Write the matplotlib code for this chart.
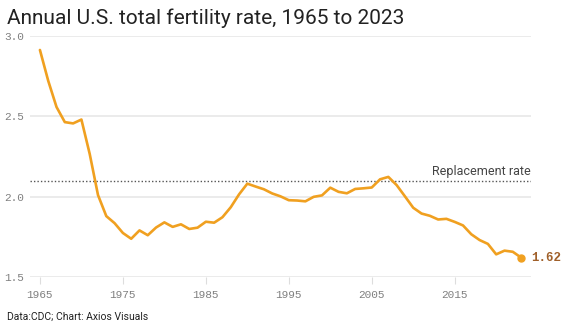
import matplotlib
matplotlib.use("Agg")
import matplotlib.pyplot as plt

years = list(range(1965, 2024))
tfr = [2.913, 2.721, 2.558, 2.464, 2.456, 2.480, 2.266, 2.010, 1.879, 1.835,
       1.774, 1.738, 1.790, 1.760, 1.808, 1.840, 1.812, 1.828, 1.799, 1.807,
       1.844, 1.838, 1.872, 1.934, 2.014, 2.081, 2.063, 2.046, 2.020, 2.002,
       1.978, 1.976, 1.971, 1.999, 2.008, 2.056, 2.030, 2.021, 2.048, 2.052,
       2.057, 2.108, 2.123, 2.072, 2.002, 1.931, 1.895, 1.881, 1.858, 1.862,
       1.843, 1.821, 1.766, 1.730, 1.706, 1.641, 1.664, 1.657, 1.621]
replacement = 2.1
x_ticks = [1965, 1975, 1985, 1995, 2005, 2015]
y_ticks = [1.5, 2.0, 2.5, 3.0]

orange = "#f0a020"
mono = "Liberation Mono"
sans = "Roboto"

fig = plt.figure(figsize=(5.71, 3.30), dpi=100)
ax = fig.add_axes([0.0525, 0.1606, 0.8775, 0.7303])

ax.set_xlim(1963.8, 2024.2)
ax.set_ylim(1.5, 3.0)

for y in y_ticks:
    ax.axhline(y, color="#e8e8e8", lw=1.2, zorder=1)

ax.axhline(replacement, color="#555555", lw=1.0, ls=(0, (1, 1.5)), zorder=2)
ax.text(2024.2, replacement + 0.015, "Replacement rate", ha="right", va="bottom",
        fontsize=9, color="#444444", family=sans)

ax.plot(years, tfr, color=orange, lw=1.9, solid_joinstyle="round",
        solid_capstyle="round", zorder=3)
ax.plot(years[-1], tfr[-1], "o", color=orange, ms=5, zorder=4)
ax.text(years[-1] + 1.2, tfr[-1], f"{tfr[-1]:.2f}", ha="left", va="center",
        fontsize=9, color="#a0602a", family=mono, fontweight="bold")

ax.set_xticks(x_ticks)
ax.set_xticklabels([str(x) for x in x_ticks], family=mono, fontsize=8, color="#808080")
ax.set_yticks(y_ticks)
ax.set_yticklabels([f"{y:.1f}" for y in y_ticks], family=mono, fontsize=8, color="#808080")
ax.tick_params(axis="x", length=5, width=0.8, color="#dddddd", pad=4)
ax.tick_params(axis="y", length=0, pad=4)
for s in ax.spines.values():
    s.set_visible(False)

fig.text(0.012, 0.945, "Annual U.S. total fertility rate, 1965 to 2023",
         fontsize=15, color="#222222", family=sans, va="center")
fig.text(0.012, 0.025, "Data:CDC; Chart: Axios Visuals", fontsize=7.5,
         color="#222222", family=sans, va="bottom")

fig.savefig("out.png", dpi=100, facecolor="white")
